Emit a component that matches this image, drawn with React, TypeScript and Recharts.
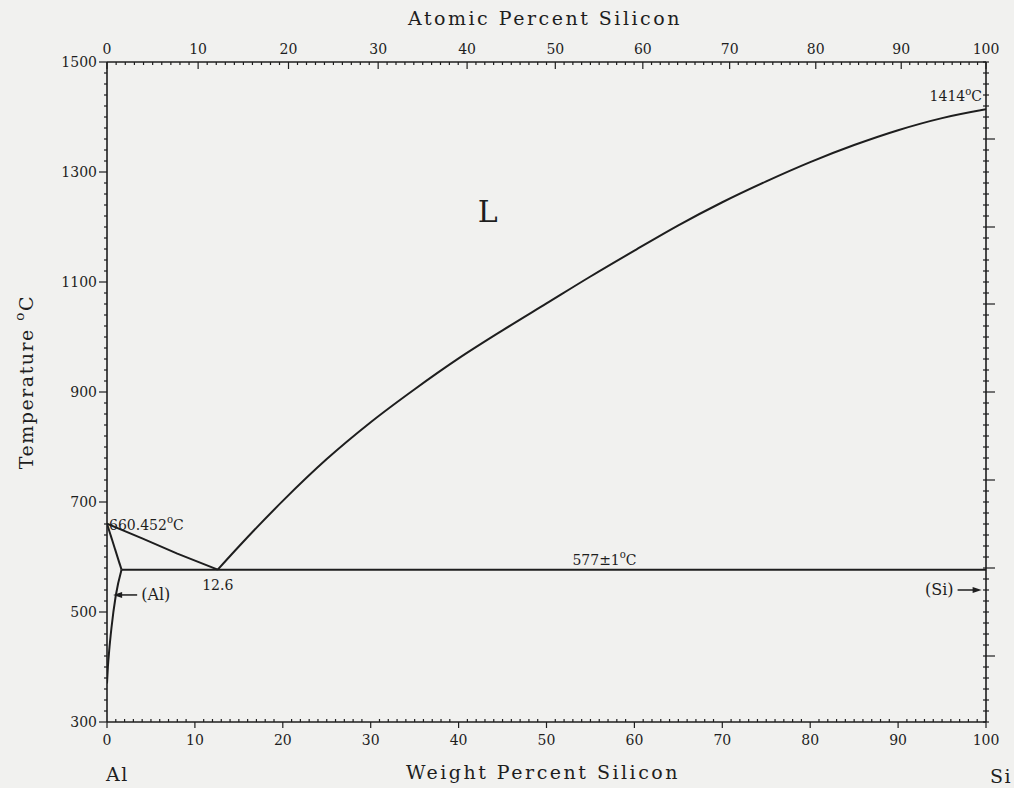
import { ComposedChart, Line, XAxis, YAxis, ReferenceDot } from "recharts";

document.body.style.margin = "0";
document.body.style.background = "#f1f1ef";

const INK = "#1e1e1e";
const FONT = "'DejaVu Serif', serif";

// Al-Si phase boundaries, weight percent Si vs temperature (°C)
const liquidusAl = [
  { w: 0, t: 660.452 },
  { w: 4, t: 634 },
  { w: 8, t: 606 },
  { w: 12.6, t: 577 },
];
const liquidusSi = [
  { w: 12.6, t: 577 },
  { w: 15, t: 619 },
  { w: 20, t: 702 },
  { w: 25, t: 778 },
  { w: 30, t: 845 },
  { w: 35, t: 905 },
  { w: 40, t: 961 },
  { w: 45, t: 1012 },
  { w: 50, t: 1061 },
  { w: 55, t: 1110 },
  { w: 60, t: 1157 },
  { w: 65, t: 1203 },
  { w: 70, t: 1245 },
  { w: 75, t: 1283 },
  { w: 80, t: 1318 },
  { w: 85, t: 1349 },
  { w: 90, t: 1376 },
  { w: 95, t: 1398 },
  { w: 100, t: 1414 },
];
const solidusAl = [
  { w: 0, t: 660.452 },
  { w: 1.65, t: 577 },
];
const solvusAl = [
  { w: 0, t: 370 },
  { w: 0.1, t: 400 },
  { w: 0.25, t: 430 },
  { w: 0.5, t: 470 },
  { w: 1.0, t: 530 },
  { w: 1.65, t: 577 },
];
const eutectic = [
  { w: 1.65, t: 577 },
  { w: 100, t: 577 },
];

// axis ticks
const weightTicks = Array.from({ length: 101 }, (_, i) => i);
const tempTicks = Array.from({ length: 61 }, (_, i) => 300 + i * 20);
const atomicTicks = Array.from({ length: 101 }, (_, i) => i);
const rightMajor = [420, 580, 740, 900, 1060, 1200, 1360];
const rightTicks = [...new Set([...tempTicks, ...rightMajor])].sort((a, b) => a - b);

const M_AL = 26.982;
const M_SI = 28.086;
const atToWt = (a: number) => (100 * a * M_SI) / (a * M_SI + (100 - a) * M_AL);
const wtToAt = (w: number) => (100 * w * M_AL) / (w * M_AL + (100 - w) * M_SI);
const atomicAsWeight = atomicTicks.map(atToWt);

function Deg({ size }: { size: number }) {
  return (
    <>
      <tspan dy={-size * 0.45} fontSize={size * 0.72}>o</tspan>
      <tspan dy={size * 0.45}>C</tspan>
    </>
  );
}

function BottomTick({ x, y, payload }: any) {
  const v = payload.value;
  const major = v % 10 === 0;
  return (
    <g>
      <line x1={x} x2={x} y1={y - (major ? 0 : 3)} y2={y + (major ? 6 : 0)} stroke={INK} strokeWidth={1.2} />
      {major && (
        <text x={x} y={y + 23} textAnchor="middle" fontFamily={FONT} fontSize={14} fill={INK}>
          {v}
        </text>
      )}
    </g>
  );
}

function TopTick({ x, y, payload }: any) {
  const a = Math.round(wtToAt(payload.value));
  const major = a % 10 === 0;
  return (
    <g>
      <line x1={x} x2={x} y1={y} y2={y + (major ? 7 : 3)} stroke={INK} strokeWidth={1.2} />
      {major && (
        <text x={x} y={y - 8} textAnchor="middle" fontFamily={FONT} fontSize={14} fill={INK}>
          {a}
        </text>
      )}
    </g>
  );
}

function LeftTick({ x, y, payload }: any) {
  const v = payload.value;
  const major = (v - 300) % 200 === 0;
  return (
    <g>
      <line x1={x - (major ? 8 : 3)} x2={x} y1={y} y2={y} stroke={INK} strokeWidth={1.2} />
      {major && (
        <text x={x - 10} y={y + 5} textAnchor="end" fontFamily={FONT} fontSize={14} fill={INK}>
          {v}
        </text>
      )}
    </g>
  );
}

function RightTick({ x, y, payload }: any) {
  const major = rightMajor.includes(payload.value);
  return <line x1={x - 3} x2={x + (major ? 9 : 3)} y1={y} y2={y} stroke={INK} strokeWidth={1.2} />;
}

const txt = (content: any, dx: number, dy: number, anchor: string, size = 14) =>
  (p: any) => (
    <text x={p.cx + dx} y={p.cy + dy} textAnchor={anchor} fontFamily={FONT} fontSize={size} fill={INK}>
      {content}
    </text>
  );

const arrowLabel = (label: string, side: "left" | "right") => (p: any) => {
  const { cx, cy } = p;
  if (side === "left") {
    return (
      <g>
        <line x1={cx + 4} x2={cx + 24} y1={cy} y2={cy} stroke={INK} strokeWidth={1.5} />
        <path d={`M${cx} ${cy} L${cx + 9} ${cy - 3} L${cx + 9} ${cy + 3} Z`} fill={INK} />
        <text x={cx + 28} y={cy + 5} fontFamily={FONT} fontSize={16} fill={INK}>{label}</text>
      </g>
    );
  }
  return (
    <g>
      <line x1={cx - 24} x2={cx - 4} y1={cy} y2={cy} stroke={INK} strokeWidth={1.5} />
      <path d={`M${cx} ${cy} L${cx - 9} ${cy - 3} L${cx - 9} ${cy + 3} Z`} fill={INK} />
      <text x={cx - 28} y={cy + 5} textAnchor="end" fontFamily={FONT} fontSize={16} fill={INK}>{label}</text>
    </g>
  );
};

const lineProps = {
  dataKey: "t",
  stroke: INK,
  strokeWidth: 2,
  dot: false,
  activeDot: false,
  isAnimationActive: false,
  legendType: "none" as const,
};

export default function App() {
  return (
    <div style={{ position: "relative", width: 1014, height: 788 }}>
      <ComposedChart
        width={1014}
        height={788}
        margin={{ top: 32, right: 14, bottom: 36, left: 47 }}
      >
        <XAxis
          dataKey="w"
          type="number"
          domain={[0, 100]}
          ticks={weightTicks}
          interval={0}
          tickSize={0}
          tickMargin={0}
          tickLine={false}
          tick={(p: any) => <BottomTick {...p} />}
          height={30}
          axisLine={{ stroke: INK, strokeWidth: 1.6 }}
          allowDataOverflow
        />
        <XAxis
          xAxisId="top"
          dataKey="w"
          orientation="top"
          type="number"
          domain={[0, 100]}
          ticks={atomicAsWeight}
          interval={0}
          tickSize={0}
          tickMargin={0}
          tickLine={false}
          tick={(p: any) => <TopTick {...p} />}
          height={30}
          axisLine={{ stroke: INK, strokeWidth: 1.6 }}
          allowDataOverflow
        />
        <YAxis
          type="number"
          domain={[300, 1500]}
          ticks={tempTicks}
          interval={0}
          tickSize={0}
          tickMargin={0}
          tickLine={false}
          tick={(p: any) => <LeftTick {...p} />}
          width={60}
          axisLine={{ stroke: INK, strokeWidth: 1.6 }}
          allowDataOverflow
        />
        <YAxis
          yAxisId="right"
          orientation="right"
          type="number"
          domain={[300, 1500]}
          ticks={rightTicks}
          interval={0}
          tickSize={0}
          tickMargin={0}
          tickLine={false}
          tick={(p: any) => <RightTick {...p} />}
          width={14}
          axisLine={{ stroke: INK, strokeWidth: 1.6 }}
          allowDataOverflow
        />

        <Line data={liquidusAl} {...lineProps} />
        <Line data={liquidusSi} {...lineProps} type="monotone" />
        <Line data={solidusAl} {...lineProps} />
        <Line data={solvusAl} {...lineProps} type="monotone" />
        <Line data={eutectic} {...lineProps} />

        <ReferenceDot x={43.3} y={1209} r={0} ifOverflow="visible" shape={txt("L", 0, 0, "middle", 30)} />
        <ReferenceDot
          x={100}
          y={1414}
          r={0}
          ifOverflow="visible"
          shape={txt(<>1414<Deg size={14} /></>, -4, -8, "end")}
        />
        <ReferenceDot
          x={0}
          y={660.452}
          r={0}
          ifOverflow="visible"
          shape={txt(<>660.452<Deg size={14} /></>, 2, 6, "start")}
        />
        <ReferenceDot x={12.6} y={577} r={0} ifOverflow="visible" shape={txt("12.6", 0, 20, "middle")} />
        <ReferenceDot
          x={56.6}
          y={577}
          r={0}
          ifOverflow="visible"
          shape={txt(<>577±1<Deg size={14} /></>, 0, -5, "middle")}
        />
        <ReferenceDot x={0.7} y={531} r={0} ifOverflow="visible" shape={arrowLabel("(Al)", "left")} />
        <ReferenceDot x={99.5} y={540} r={0} ifOverflow="visible" shape={arrowLabel("(Si)", "right")} />
      </ComposedChart>

      <svg
        width={1014}
        height={788}
        style={{ position: "absolute", left: 0, top: 0, pointerEvents: "none" }}
      >
        <text x={545} y={25} textAnchor="middle" fontFamily={FONT} fontSize={19} letterSpacing={2.5} fill={INK}>
          Atomic Percent Silicon
        </text>
        <text x={543} y={779} textAnchor="middle" fontFamily={FONT} fontSize={19} letterSpacing={2.5} fill={INK}>
          Weight Percent Silicon
        </text>
        <text x={106} y={781} fontFamily={FONT} fontSize={19} letterSpacing={1.5} fill={INK}>
          Al
        </text>
        <text x={990} y={783} fontFamily={FONT} fontSize={19} letterSpacing={1.5} fill={INK}>
          Si
        </text>
        <text
          x={0}
          y={0}
          transform="translate(33 382) rotate(-90)"
          textAnchor="middle"
          fontFamily={FONT}
          fontSize={19}
          letterSpacing={1.5}
          fill={INK}
        >
          Temperature <Deg size={19} />
        </text>
      </svg>
    </div>
  );
}
